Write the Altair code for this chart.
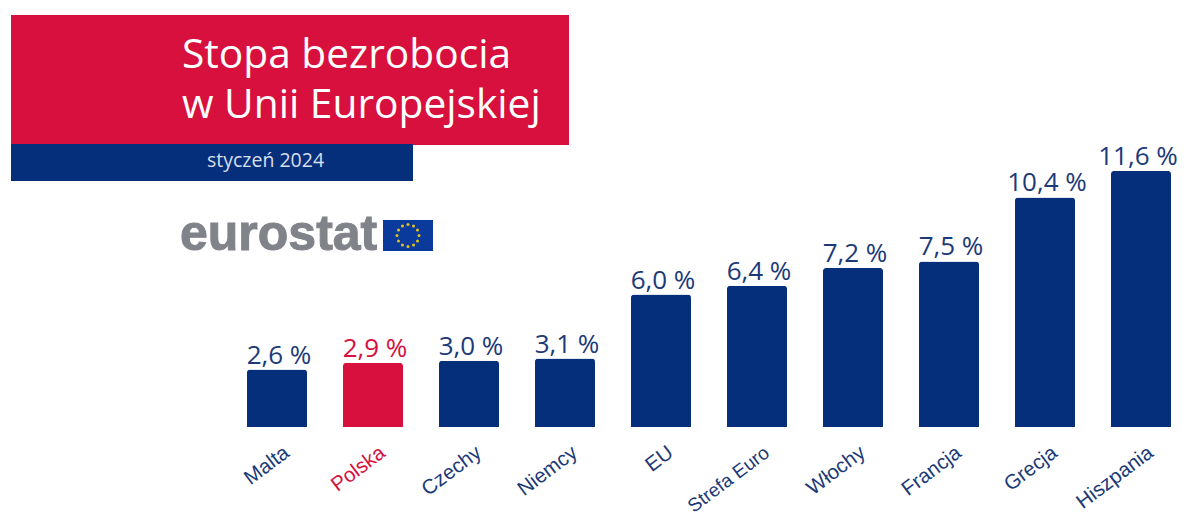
import altair as alt
import pandas as pd

categories = ["Malta", "Polska", "Czechy", "Niemcy", "EU", "Strefa Euro", "Włochy", "Francja", "Grecja", "Hiszpania"]
values = [2.6, 2.9, 3.0, 3.1, 6.0, 6.4, 7.2, 7.5, 10.4, 11.6]
value_labels = ["2,6 %", "2,9 %", "3,0 %", "3,1 %", "6,0 %", "6,4 %", "7,2 %", "7,5 %", "10,4 %", "11,6 %"]
highlight = "Polska"
last = "Hiszpania"
longest = "Strefa Euro"
star_hours = list(range(12))

NAVY = "#062f7b"
RED = "#d7103e"
TEXT_NAVY = "#1c3a78"
GREY = "#808389"

df = pd.DataFrame({"cat": categories, "val": values, "lab": value_labels})
df["fill"] = [RED if c == highlight else NAVY for c in categories]
df["tcol"] = [RED if c == highlight else TEXT_NAVY for c in categories]

one = alt.Data(values=[{"a": 1}])

x_scale = alt.Scale(domain=categories, range=[239, 1163], paddingInner=0.375, paddingOuter=0)
y_scale = alt.Scale(domain=[0, 18.98], nice=False)

x_enc = alt.X(
    "cat:N", scale=x_scale, sort=None, title=None,
    axis=alt.Axis(
        domain=False, ticks=False, grid=False, labelAngle=-37, labelAlign="right", labelBaseline="middle",
        labelFont="Liberation Sans", labelPadding=23, labelOffset=10, labelOverlap=False,
        labelFontSize=alt.expr(f"datum.value == '{longest}' ? 19 : 20.5"),
        labelBound=False, labelFlush=False, labelLimit=300,
        labelColor=alt.expr(f"datum.value == '{highlight}' ? '{RED}' : '{TEXT_NAVY}'"),
    ),
)
y_enc = alt.Y("val:Q", scale=y_scale, axis=None, title=None)

bars = alt.Chart(df).mark_bar(cornerRadiusTopLeft=3, cornerRadiusTopRight=3).encode(
    x=x_enc, y=y_enc, color=alt.Color("fill:N", scale=None, legend=None)
)


def value_text(dx):
    return alt.Chart(df).mark_text(font="Open Sans", fontSize=26, baseline="alphabetic", dy=-6, dx=dx, align="center").encode(
        x=alt.X("cat:N", scale=x_scale, sort=None, bandPosition=0.5), y=y_enc, text="lab:N",
        color=alt.Color("tcol:N", scale=None, legend=None),
    )


bar_text = value_text(2).transform_filter(f"datum.cat != '{last}'")
bar_text_last = value_text(-3).transform_filter(f"datum.cat == '{last}'")


def rect(x, x2, y, y2, color):
    return alt.Chart(one).mark_rect(color=color).encode(
        x=alt.value(x), x2=alt.value(x2), y=alt.value(y), y2=alt.value(y2)
    )


def label(text, x, y, size, color, font="Open Sans", weight="normal", stroke_width=0):
    return alt.Chart(one).mark_text(
        text=text, font=font, fontSize=size, color=color, fontWeight=weight, align="left", baseline="alphabetic",
        stroke=color, strokeWidth=stroke_width,
    ).encode(x=alt.value(x), y=alt.value(y))


stars = (
    alt.Chart(pd.DataFrame({"h": star_hours}))
    .transform_calculate(px="400 + 11 * cos(datum.h * PI / 6)", py="227.5 + 11 * sin(datum.h * PI / 6)")
    .mark_point(shape="circle", filled=True, size=9, color="#e3c21c", opacity=1)
    .encode(x=alt.X("px:Q", scale=None, axis=None), y=alt.Y("py:Q", scale=None, axis=None))
)

chart = alt.layer(
    rect(3, 561, 7, 137, RED),
    rect(3, 405, 136, 173, NAVY),
    label("Stopa bezrobocia", 174, 60, 40.7, "#ffffff"),
    label("w Unii Europejskiej", 174, 110, 40.7, "#ffffff"),
    label("styczeń 2024", 199, 159, 19.5, "#d8dfec"),
    label("eurostat", 172, 242, 50, GREY, font="Liberation Sans", weight="bold", stroke_width=1),
    rect(375, 425, 212, 243, "#0a3a9c"),
    stars,
    bars,
    bar_text,
    bar_text_last,
).resolve_scale(x="shared", y="independent", color="independent").properties(
    width=1170, height=419, padding={"left": 0, "top": 0, "right": 0, "bottom": 85},
    autosize=alt.AutoSizeParams(type="none"), background="white",
).configure_view(stroke=None)

chart.save("out.html", embed_options={"renderer": "svg", "actions": False})
